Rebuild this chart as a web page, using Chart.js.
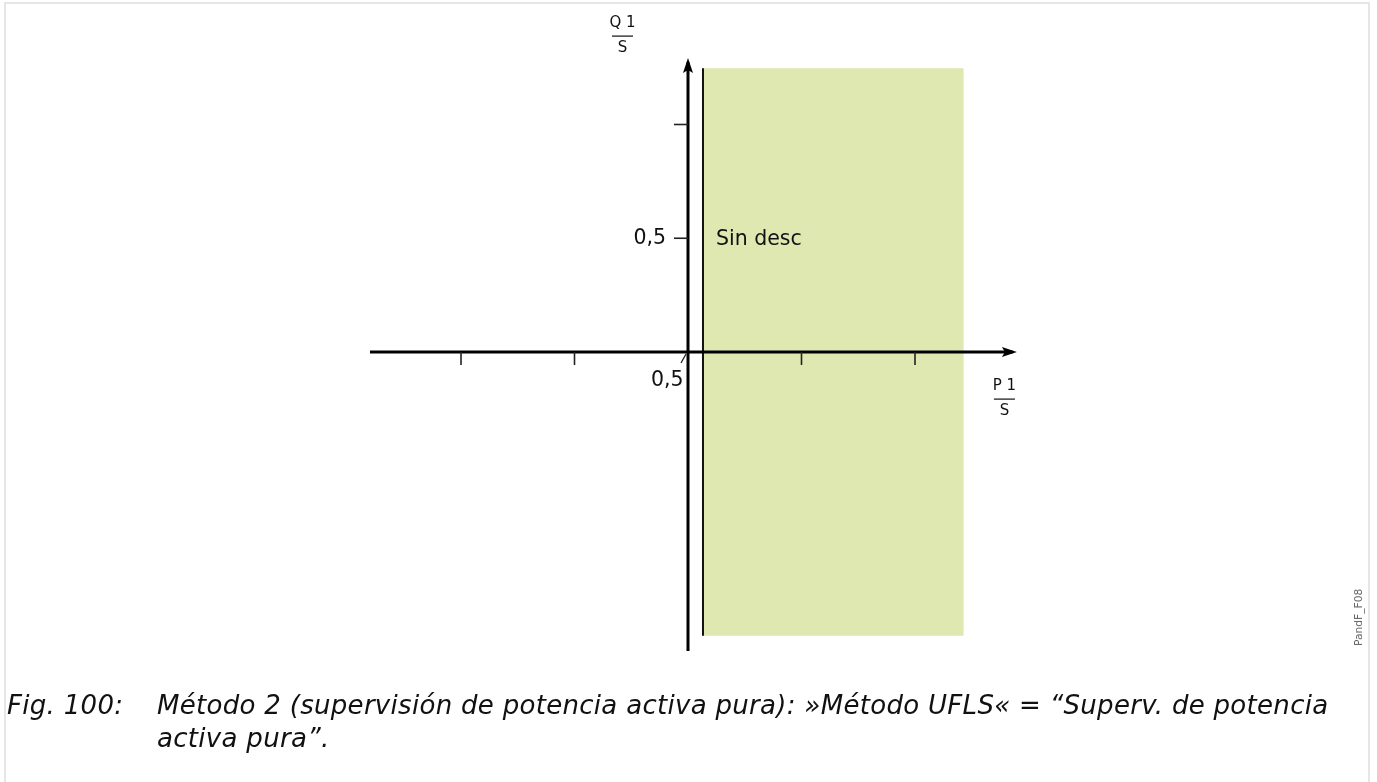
<!DOCTYPE html>
<html>
<head>
<meta charset="utf-8">
<script src="https://cdn.jsdelivr.net/npm/chart.js@4.4.1/dist/chart.umd.min.js"></script>
<style>
  html, body { margin: 0; padding: 0; background: #fff; width: 1377px; height: 782px; overflow: hidden; }
  #frame { position: absolute; left: 4px; top: 2px; width: 1362px; height: 800px;
           border: 2px solid #e6e6e6; border-bottom: none; }
  #wrap { position: absolute; left: 0; top: 0; width: 1377px; height: 782px; }
  .cap { position: absolute; font-family: "DejaVu Sans", sans-serif; font-style: italic;
         font-size: 26px; letter-spacing: 0.3px; line-height: 33px; color: #111; white-space: nowrap; }
  #tag { position: absolute; left: 1352px; top: 646px; font-family: "DejaVu Sans", sans-serif;
         font-size: 10.7px; color: #666; transform-origin: 0 0; transform: rotate(-90deg); white-space: nowrap; }
</style>
</head>
<body>
<div id="frame"></div>
<div id="wrap"><canvas id="c" width="1377" height="782"></canvas></div>
<div class="cap" style="left:7px; top:689px;">Fig. 100:</div>
<div class="cap" style="left:157px; top:689px;">Método 2 (supervisión de potencia activa pura): »Método UFLS« = “Superv. de potencia<br>activa pura”.</div>
<div id="tag">PandF_F08</div>
<script>
// ---- data ----
const xTickValues = [-1.0, -0.5, 0.5, 1.0];
const yTickValues = [0.5, 1.0];
const yTickLabel = "0,5";
const regionP = [0.066, 1.214];   // P/S bounds of the "Sin desc" zone
const regionQ = [-1.247, 1.247];  // Q/S bounds of the zone
const axisP = [-1.401, 1.43];     // extent of horizontal axis
const axisQ = [-1.314, 1.275];    // extent of vertical axis
const arrowTipP = 1.449;
const arrowTipQ = 1.292;
const zoneLabel = "Sin desc";
const originLabel = "0,5";
const yAxisLabel = ["Q 1", "S"];
const xAxisLabel = ["P 1", "S"];

const regionPts = [
  {x: regionP[0], y: regionQ[0]}, {x: regionP[1], y: regionQ[0]},
  {x: regionP[1], y: regionQ[1]}, {x: regionP[0], y: regionQ[1]},
  {x: regionP[0], y: regionQ[0]}
];

const decor = {
  id: 'decor',
  afterDatasetsDraw(chart) {
    const ctx = chart.ctx;
    const xs = chart.scales.x, ys = chart.scales.y;
    const px = v => xs.getPixelForValue(v), py = v => ys.getPixelForValue(v);
    const x0 = px(0), y0 = py(0);
    ctx.save();
    // ticks
    ctx.strokeStyle = '#222'; ctx.lineWidth = 1.6;
    xTickValues.forEach(t => {
      ctx.beginPath(); ctx.moveTo(px(t), y0); ctx.lineTo(px(t), y0 + 13); ctx.stroke();
    });
    yTickValues.forEach(t => {
      ctx.beginPath(); ctx.moveTo(x0 - 14, py(t)); ctx.lineTo(x0, py(t)); ctx.stroke();
    });
    // arrows
    ctx.fillStyle = '#000';
    const tx = px(arrowTipP);
    ctx.beginPath(); ctx.moveTo(tx, y0); ctx.lineTo(tx - 15, y0 - 5); ctx.lineTo(tx - 12, y0); ctx.lineTo(tx - 15, y0 + 5); ctx.closePath(); ctx.fill();
    const ty = py(arrowTipQ);
    ctx.beginPath(); ctx.moveTo(x0, ty); ctx.lineTo(x0 - 5, ty + 15); ctx.lineTo(x0, ty + 12); ctx.lineTo(x0 + 5, ty + 15); ctx.closePath(); ctx.fill();
    // labels
    ctx.fillStyle = '#111';
    ctx.font = '20.5px "DejaVu Sans"';
    ctx.textBaseline = 'alphabetic';
    ctx.textAlign = 'right';
    ctx.fillText(yTickLabel, x0 - 22, py(0.5) + 6);
    ctx.textAlign = 'left';
    ctx.fillText(zoneLabel, px(regionP[0]) + 13, py(0.5) + 7);
    ctx.fillText(originLabel, x0 - 37, y0 + 34);
    ctx.beginPath(); ctx.moveTo(x0 - 7, y0 + 11); ctx.lineTo(x0 - 2, y0 + 2); ctx.lineWidth = 1.3; ctx.stroke();
    // axis fraction labels
    ctx.font = '15px "DejaVu Sans"';
    ctx.textAlign = 'center';
    const qx = x0 - 65.5;
    ctx.fillText(yAxisLabel[0], qx, 27);
    ctx.fillRect(qx - 10.5, 35.5, 21, 1.2);
    ctx.fillText(yAxisLabel[1], qx, 52);
    const pxl = px(arrowTipP) - 12.5;
    ctx.fillText(xAxisLabel[0], pxl, y0 + 38);
    ctx.fillRect(pxl - 10.5, y0 + 46.5, 21, 1.2);
    ctx.fillText(xAxisLabel[1], pxl, y0 + 63);
    ctx.restore();
  }
};

new Chart(document.getElementById('c'), {
  type: 'scatter',
  data: {
    datasets: [
      { data: [{x: axisP[0], y: 0}, {x: axisP[1], y: 0}], showLine: true,
        borderColor: '#000', borderWidth: 3, pointRadius: 0, order: 1 },
      { data: [{x: 0, y: axisQ[0]}, {x: 0, y: axisQ[1]}], showLine: true,
        borderColor: '#000', borderWidth: 3, pointRadius: 0, order: 1 },
      { data: [{x: regionP[0], y: regionQ[0]}, {x: regionP[0], y: regionQ[1]}], showLine: true,
        borderColor: '#111', borderWidth: 2, pointRadius: 0, order: 2 },
      { data: regionPts, showLine: true, fill: 'shape', backgroundColor: '#dee8b0',
        borderColor: 'rgba(0,0,0,0)', borderWidth: 0, pointRadius: 0, order: 3 }
    ]
  },
  options: {
    responsive: false, animation: false, events: [],
    layout: { padding: 0 },
    plugins: { legend: { display: false }, tooltip: { enabled: false }, title: { display: false },
               filler: { drawTime: 'beforeDatasetsDraw' } },
    scales: {
      x: { type: 'linear', display: false, min: -688 / 227, max: (1377 - 688) / 227 },
      y: { type: 'linear', display: false, min: -(782 - 352) / 227.5, max: 352 / 227.5 }
    }
  },
  plugins: [decor]
});
</script>
</body>
</html>
